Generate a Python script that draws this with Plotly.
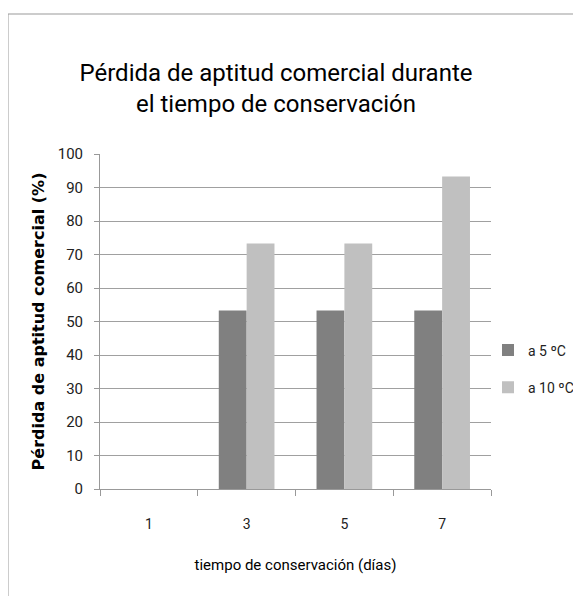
import plotly.graph_objects as go

categories = ["1", "3", "5", "7"]
a5 = [0, 53.3, 53.3, 53.3]
a10 = [0, 73.3, 73.3, 93.3]
series_names = ["a 5 ºC", "a 10 ºC"]
y_ticks = list(range(0, 101, 10))

fig = go.Figure()
fig.add_trace(go.Bar(x=categories, y=a5, name=series_names[0], marker_color="#808080",
                     marker_line_width=0, legendgroup="g1"))
fig.add_trace(go.Bar(x=categories, y=a10, name=series_names[1], marker_color="#c0c0c0",
                     marker_line_width=0, legendgroup="g2"))

font = "Roboto, Open Sans, sans-serif"
OFF = 8  # page body margin
W, H = 581, 596
L, R, T, B = 100 - OFF, 90 + OFF, 154 - OFF, 107 + OFF
pw, ph = W - L - R, H - T - B

def px_x(p):
    return (p - OFF - L) / pw

def px_y(p):
    return (H - B - (p - OFF)) / ph

fig.update_layout(
    width=W, height=H,
    margin=dict(l=L, r=R, t=T, b=B, autoexpand=False),
    paper_bgcolor="white", plot_bgcolor="white",
    barmode="group", bargap=0.43, bargroupgap=0,
    title=dict(text="Pérdida de aptitud comercial durante<br>el tiempo de conservación",
               x=(276 - OFF) / W, xanchor="center", y=1 - (81 - OFF) / H, yanchor="middle",
               font=dict(family=font, size=24, color="black")),
    legend=dict(x=px_x(488), xanchor="left", y=px_y(369), yanchor="middle",
                font=dict(family=font, size=14, color="#222"),
                traceorder="grouped", tracegroupgap=16, bgcolor="rgba(0,0,0,0)"),
    xaxis=dict(type="category", showgrid=False, showline=True, linecolor="#999", linewidth=1,
               ticks="outside", tickson="boundaries", ticklen=6, tickcolor="#999",
               tickfont=dict(family=font, size=14, color="#222"), ticklabelstandoff=22,
               title=dict(text="tiempo de conservación (días)", standoff=28,
                          font=dict(family=font, size=15, color="black"))),
    yaxis=dict(range=[0, 100], tickvals=y_ticks, showgrid=True, gridcolor="#a0a0a0", gridwidth=1,
               showline=True, linecolor="#999", linewidth=1, zeroline=False,
               ticks="outside", ticklen=5, tickcolor="#999", ticklabelstandoff=8,
               tickfont=dict(family=font, size=15, color="#222"),
               title=dict(text="<b>Pérdida de aptitud comercial (%)</b>", standoff=9,
                          font=dict(family="DejaVu Sans", size=16, color="black"))),
    shapes=[dict(type="rect", xref="paper", yref="paper",
                 x0=px_x(8), x1=px_x(700), y0=px_y(800), y1=px_y(14),
                 line=dict(color="#999", width=1), fillcolor="rgba(0,0,0,0)", layer="below")],
)

fig.write_html("out.html")
